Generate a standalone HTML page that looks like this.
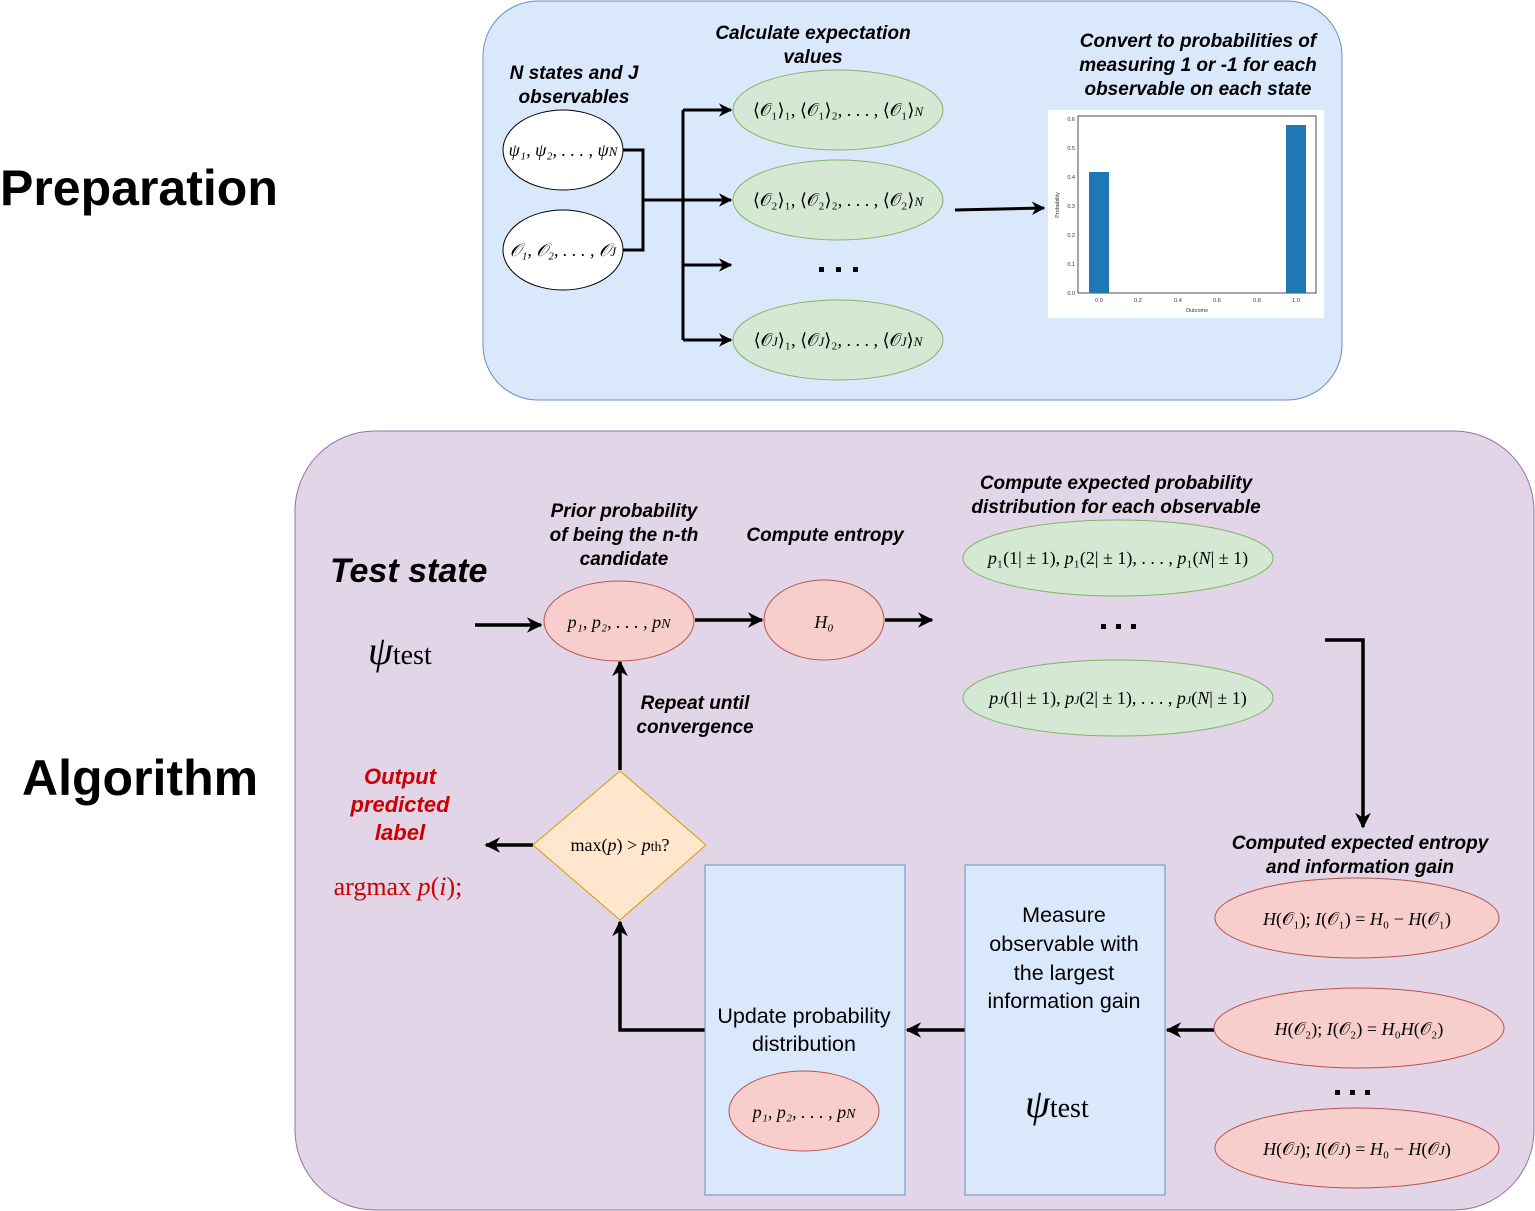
<!DOCTYPE html>
<html><head><meta charset="utf-8"><style>
body{margin:0;background:#fff}
svg{display:block}
.l{font-family:"Liberation Sans",sans-serif;font-weight:bold;font-style:italic;font-size:19px;text-anchor:middle}
.m{font-family:"Liberation Serif",serif;font-size:18px;text-anchor:middle}
</style></head><body>
<svg width="1535" height="1211" viewBox="0 0 1535 1211" xmlns="http://www.w3.org/2000/svg">
<defs>
<marker id="a" viewBox="0 0 10 10" refX="9" refY="5" markerWidth="4.5" markerHeight="4.5" orient="auto"><path d="M0,0 L10,5 L0,10 L3,5 z" fill="#000"/></marker>
</defs>
<rect x="483" y="1" width="859" height="399" rx="55" fill="#dae8fc" stroke="#6c8ebf"/>
<rect x="295" y="431" width="1239" height="779" rx="80" fill="#e1d5e7" stroke="#9673a6"/>

<text x="0" y="205" font-family="Liberation Sans,sans-serif" font-weight="bold" font-size="50">Preparation</text>
<text x="22" y="795" font-family="Liberation Sans,sans-serif" font-weight="bold" font-size="50">Algorithm</text>

<text class="l" x="574" y="79">N states and J</text>
<text class="l" x="574" y="103">observables</text>
<text class="l" x="813" y="39">Calculate expectation</text>
<text class="l" x="813" y="63">values</text>
<text class="l" x="1198" y="47">Convert to probabilities of</text>
<text class="l" x="1198" y="71">measuring 1 or -1 for each</text>
<text class="l" x="1198" y="95">observable on each state</text>

<ellipse cx="563" cy="150" rx="60" ry="40" fill="#fff" stroke="#000"/>
<ellipse cx="563" cy="250" rx="60" ry="40" fill="#fff" stroke="#000"/>
<text class="m" x="563" y="156" font-style="italic" font-size="19">ψ₁, ψ₂, . . . , ψ<tspan font-size="13">N</tspan></text>
<text class="m" x="563" y="256" font-style="italic" font-size="19">𝒪₁, 𝒪₂, . . . , 𝒪<tspan font-size="13">J</tspan></text>
<g stroke="#000" stroke-width="3" fill="none">
<path d="M623,150 H643 V250 H623 M643,200 H683 M683,110 V340"/>
<path d="M683,110 H731" marker-end="url(#a)"/>
<path d="M683,200 H731" marker-end="url(#a)"/>
<path d="M683,265 H731" marker-end="url(#a)"/>
<path d="M683,340 H731" marker-end="url(#a)"/>
<path d="M955,210 L1044,208" marker-end="url(#a)"/>
</g>
<g fill="#d5e8d4" stroke="#82b366">
<ellipse cx="838" cy="110" rx="105" ry="40"/>
<ellipse cx="838" cy="200" rx="105" ry="40"/>
<ellipse cx="838" cy="340" rx="105" ry="40"/>
</g>
<text class="m" x="838" y="116" font-size="19">⟨𝒪₁⟩₁, ⟨𝒪₁⟩₂, . . . , ⟨𝒪₁⟩<tspan font-size="13" font-style="italic">N</tspan></text>
<text class="m" x="838" y="206" font-size="19">⟨𝒪₂⟩₁, ⟨𝒪₂⟩₂, . . . , ⟨𝒪₂⟩<tspan font-size="13" font-style="italic">N</tspan></text>
<text class="m" x="838" y="346" font-size="19">⟨𝒪<tspan font-size="13" font-style="italic">J</tspan>⟩₁, ⟨𝒪<tspan font-size="13" font-style="italic">J</tspan>⟩₂, . . . , ⟨𝒪<tspan font-size="13" font-style="italic">J</tspan>⟩<tspan font-size="13" font-style="italic">N</tspan></text>
<g fill="#000"><rect x="819" y="267" width="5" height="5"/><rect x="836" y="267" width="5" height="5"/><rect x="853" y="267" width="5" height="5"/></g>

<rect x="1048" y="110" width="276" height="208" fill="#fff"/>
<rect x="1078" y="116" width="238" height="177" fill="none" stroke="#222" stroke-width="0.8"/>
<rect x="1089" y="172" width="20" height="121" fill="#1f77b4"/>
<rect x="1286" y="125" width="20" height="168" fill="#1f77b4"/>
<g font-family="Liberation Sans,sans-serif" font-size="5.5" fill="#333" text-anchor="end">
<text x="1075" y="295">0.0</text><text x="1075" y="266">0.1</text><text x="1075" y="237">0.2</text><text x="1075" y="208">0.3</text><text x="1075" y="179">0.4</text><text x="1075" y="150">0.5</text><text x="1075" y="121">0.6</text>
</g>
<g font-family="Liberation Sans,sans-serif" font-size="5.5" fill="#333" text-anchor="middle">
<text x="1099" y="302">0.0</text><text x="1138" y="302">0.2</text><text x="1178" y="302">0.4</text><text x="1217" y="302">0.6</text><text x="1257" y="302">0.8</text><text x="1296" y="302">1.0</text>
<text x="1197" y="312">Outcome</text>
<text transform="translate(1059,205) rotate(-90)">Probability</text>
</g>

<text x="330" y="582" font-family="Liberation Sans,sans-serif" font-weight="bold" font-style="italic" font-size="34">Test state</text>
<text x="368" y="664" font-family="Liberation Serif,serif" font-style="italic" font-size="40">ψ<tspan font-style="normal" font-size="28">test</tspan></text>
<text class="l" x="624" y="517">Prior probability</text>
<text class="l" x="624" y="541">of being the n-th</text>
<text class="l" x="624" y="565">candidate</text>
<text class="l" x="825" y="541">Compute entropy</text>
<text class="l" x="1116" y="489">Compute expected probability</text>
<text class="l" x="1116" y="513">distribution for each observable</text>
<text class="l" x="695" y="709">Repeat until</text>
<text class="l" x="695" y="733">convergence</text>
<text class="l" x="1360" y="849">Computed expected entropy</text>
<text class="l" x="1360" y="873">and information gain</text>
<g class="l" fill="#cc0000" style="font-size:22px"><text x="400" y="784">Output</text><text x="400" y="812">predicted</text><text x="400" y="840">label</text></g>
<text x="398" y="895" font-family="Liberation Serif,serif" font-size="26" fill="#cc0000" text-anchor="middle">argmax <tspan font-style="italic">p</tspan>(<tspan font-style="italic">i</tspan>);</text>

<g stroke="#000" stroke-width="3.5" fill="none">
<path d="M475,625 H541" marker-end="url(#a)"/>
<path d="M695,620 H762" marker-end="url(#a)"/>
<path d="M885,620 H932" marker-end="url(#a)"/>
<path d="M1325,640 H1363 V827" marker-end="url(#a)"/>
<path d="M1215,1030 H1167" marker-end="url(#a)"/>
<path d="M965,1030 H907" marker-end="url(#a)"/>
<path d="M705,1030 H620 V922" marker-end="url(#a)"/>
<path d="M620,770 V662" marker-end="url(#a)"/>
<path d="M533,845 H486" marker-end="url(#a)"/>
</g>

<g fill="#f8cecc" stroke="#b85450">
<ellipse cx="619" cy="621" rx="75" ry="40"/>
<ellipse cx="824" cy="620" rx="60" ry="40"/>
<ellipse cx="1357" cy="918" rx="142" ry="40"/>
<ellipse cx="1359" cy="1028" rx="145" ry="40"/>
<ellipse cx="1357" cy="1148" rx="142" ry="40"/>
</g>
<g fill="#d5e8d4" stroke="#82b366">
<ellipse cx="1118" cy="558" rx="155" ry="38"/>
<ellipse cx="1118" cy="698" rx="155" ry="38"/>
</g>
<rect x="965" y="865" width="200" height="330" fill="#dae8fc" stroke="#6c8ebf"/>
<rect x="705" y="865" width="200" height="330" fill="#dae8fc" stroke="#6c8ebf"/>
<ellipse cx="804" cy="1111" rx="75" ry="40" fill="#f8cecc" stroke="#b85450"/>
<polygon points="620,771 706,845 620,920 533,845" fill="#ffe6cc" stroke="#d79b00"/>

<text class="m" x="619" y="628" font-style="italic" font-size="21">p₁, p₂, . . . , p<tspan font-size="14">N</tspan></text>
<text class="m" x="804" y="1118" font-style="italic" font-size="21">p₁, p₂, . . . , p<tspan font-size="14">N</tspan></text>
<text class="m" x="824" y="628" font-style="italic" font-size="22">H₀</text>
<text class="m" x="620" y="851" font-size="19">max(<tspan font-style="italic">p</tspan>) &gt; <tspan font-style="italic">p</tspan><tspan font-size="14">th</tspan>?</text>
<text class="m" x="1118" y="564" font-size="17"><tspan font-style="italic">p</tspan>₁(1| ± 1), <tspan font-style="italic">p</tspan>₁(2| ± 1), . . . , <tspan font-style="italic">p</tspan>₁(<tspan font-style="italic">N</tspan>| ± 1)</text>
<text class="m" x="1118" y="704" font-size="17"><tspan font-style="italic">p<tspan font-size="12">J</tspan></tspan>(1| ± 1), <tspan font-style="italic">p<tspan font-size="12">J</tspan></tspan>(2| ± 1), . . . , <tspan font-style="italic">p<tspan font-size="12">J</tspan></tspan>(<tspan font-style="italic">N</tspan>| ± 1)</text>
<text class="m" x="1357" y="925" font-size="21"><tspan font-style="italic">H</tspan>(𝒪₁); <tspan font-style="italic">I</tspan>(𝒪₁) = <tspan font-style="italic">H</tspan>₀ − <tspan font-style="italic">H</tspan>(𝒪₁)</text>
<text class="m" x="1359" y="1035" font-size="21"><tspan font-style="italic">H</tspan>(𝒪₂); <tspan font-style="italic">I</tspan>(𝒪₂) = <tspan font-style="italic">H</tspan>₀<tspan font-style="italic">H</tspan>(𝒪₂)</text>
<text class="m" x="1357" y="1155" font-size="21"><tspan font-style="italic">H</tspan>(𝒪<tspan font-size="14" font-style="italic">J</tspan>); <tspan font-style="italic">I</tspan>(𝒪<tspan font-size="14" font-style="italic">J</tspan>) = <tspan font-style="italic">H</tspan>₀ − <tspan font-style="italic">H</tspan>(𝒪<tspan font-size="14" font-style="italic">J</tspan>)</text>
<g fill="#000">
<rect x="1101" y="624" width="5" height="5"/><rect x="1116" y="624" width="5" height="5"/><rect x="1131" y="624" width="5" height="5"/>
<rect x="1335" y="1090" width="5" height="5"/><rect x="1350" y="1090" width="5" height="5"/><rect x="1365" y="1090" width="5" height="5"/>
</g>

<g font-family="Liberation Sans,sans-serif" font-size="21.5" text-anchor="middle">
<text x="1064" y="922">Measure</text><text x="1064" y="951">observable with</text><text x="1064" y="980">the largest</text><text x="1064" y="1008">information gain</text>
<text x="804" y="1023">Update probability</text><text x="804" y="1051">distribution</text>
</g>
<text x="1025" y="1117" font-family="Liberation Serif,serif" font-style="italic" font-size="40">ψ<tspan font-style="normal" font-size="28">test</tspan></text>
</svg>
</body></html>
